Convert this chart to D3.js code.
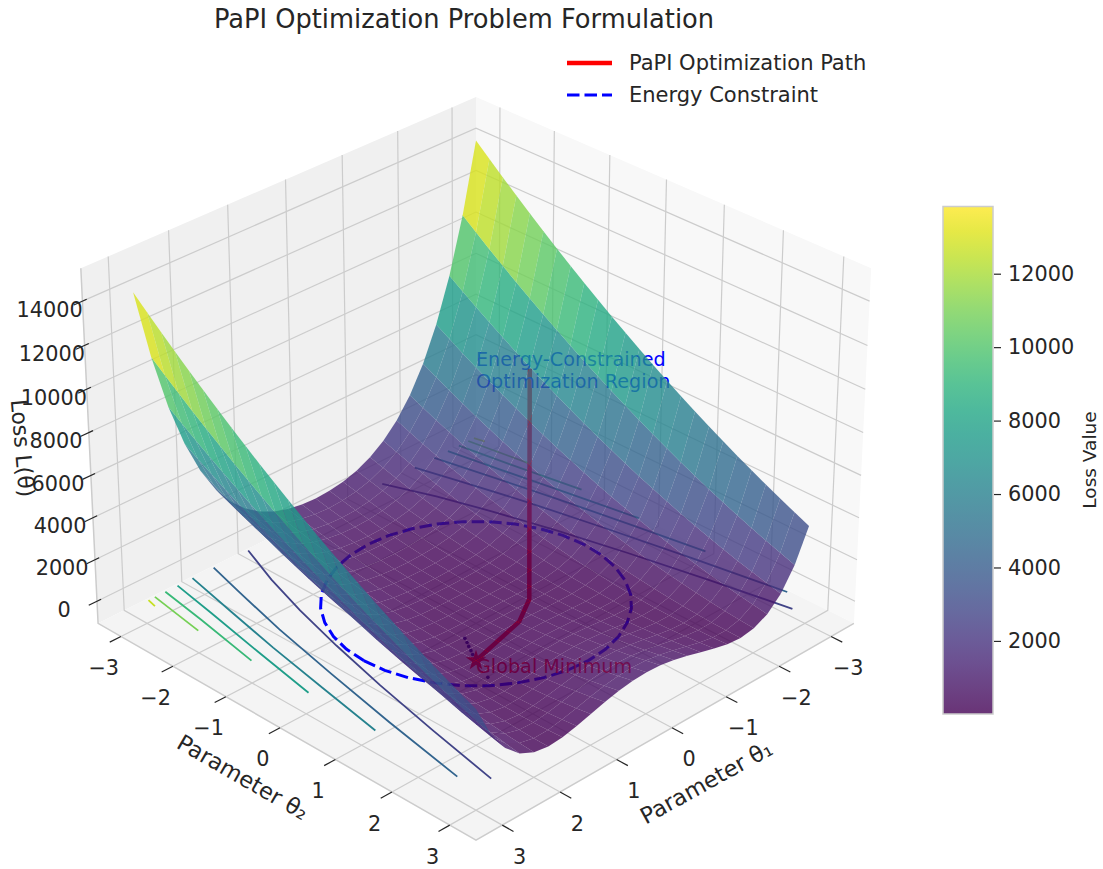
<!DOCTYPE html>
<html>
<head>
<meta charset="utf-8">
<script src="https://cdn.jsdelivr.net/npm/d3@7"></script>
<style>
  html, body { margin: 0; background: #fff; }
  text { font-family: "DejaVu Sans", sans-serif; fill: #262626; }
</style>
</head>
<body>
<div id="chart"></div>
<script>
// values
const thetaGrid = [-3,-2.75,-2.5,-2.25,-2,-1.75,-1.5,-1.25,-1,-0.75,-0.5,-0.25,0,0.25,0.5,0.75,1,1.25,1.5,1.75,2,2.25,2.5,2.75,3];
// one row per theta2, one column per theta1
const lossGrid = [
[14416,11171,8568,6511,4909,3683,2762,2087,1604,1272,1058,940,901,939,1056,1269,1600,2082,2756,3676,4901,6502,8558,11160,14404],
[13822,10649,8112,6115,4565,3387,2506,1865,1410,1100,902,793,757,792,900,1097,1406,1860,2500,3380,4557,6106,8102,10638,13810],
[13241,10139,7668,5730,4234,3102,2262,1655,1229,941,758,659,626,658,756,938,1225,1650,2256,3095,4226,5721,7658,10128,13229],
[12672,9643,7237,5358,3915,2830,2031,1459,1060,794,627,537,507,536,625,791,1056,1454,2025,2823,3907,5349,7227,9632,12660],
[12116,9158,6818,4999,3609,2571,1812,1274,904,660,508,427,401,426,506,657,900,1269,1806,2564,3601,4990,6808,9147,12104],
[11572,8686,6412,4652,3315,2324,1606,1102,760,538,402,331,307,330,400,535,756,1097,1600,2317,3307,4643,6402,8675,11560],
[11041,8227,6018,4318,3034,2090,1412,943,629,428,308,246,226,245,306,425,625,938,1406,2083,3026,4309,6008,8216,11029],
[10522,7780,5637,3996,2765,1868,1231,796,510,332,227,174,157,173,225,329,506,791,1225,1861,2757,3987,5627,7769,10510],
[10016,7346,5268,3686,2509,1658,1062,662,404,247,158,115,101,114,156,244,400,657,1056,1651,2501,3677,5258,7335,10004],
[9522,6924,4912,3390,2265,1462,906,540,310,175,102,68,57,67,100,172,306,535,900,1455,2257,3381,4902,6913,9510],
[9041,6514,4568,3105,2034,1277,762,430,229,116,58,34,26,33,56,113,225,425,756,1270,2026,3096,4558,6503,9029],
[8572,6118,4237,2833,1815,1105,631,334,160,69,27,12,7,11,25,66,156,329,625,1098,1807,2824,4227,6107,8560],
[8116,5733,3918,2574,1609,946,512,249,104,35,8,2,1,1,6,32,100,244,506,939,1601,2565,3908,5722,8104],
[7672,5361,3612,2327,1415,799,406,177,60,13,2,6,7,5,0,10,56,172,400,792,1407,2318,3602,5350,7660],
[7241,5002,3318,2093,1234,665,312,118,29,3,8,21,26,20,6,0,25,113,306,658,1226,2084,3308,4991,7229],
[6822,4655,3037,1871,1065,543,231,71,10,7,27,49,57,48,25,4,6,66,225,536,1057,1862,3027,4644,6810],
[6416,4321,2768,1661,909,433,162,37,4,22,58,90,101,89,56,19,0,32,156,426,901,1652,2758,4310,6404],
[6022,3999,2512,1465,765,337,106,15,10,50,102,143,157,142,100,47,6,10,100,330,757,1456,2502,3988,6010],
[5641,3689,2268,1280,634,252,62,5,29,91,158,209,226,208,156,88,25,0,56,245,626,1271,2258,3678,5629],
[5272,3393,2037,1108,515,180,31,9,60,144,227,287,307,286,225,141,56,4,25,173,507,1099,2027,3382,5260],
[4916,3108,1818,949,409,121,12,24,104,210,308,377,401,376,306,207,100,19,6,114,401,940,1808,3097,4904],
[4572,2836,1612,802,315,74,6,52,160,288,402,481,507,480,400,285,156,47,0,67,307,793,1602,2825,4560],
[4241,2577,1418,668,234,40,12,93,229,378,508,596,626,595,506,375,225,88,6,33,226,659,1408,2566,4229],
[3922,2330,1237,546,165,18,31,146,310,482,627,725,757,724,625,479,306,141,25,11,157,537,1227,2319,3910],
[3616,2096,1068,436,109,8,62,212,404,597,758,865,901,864,756,594,400,207,56,1,101,427,1058,2085,3604]
];

const thetaTicks = [-3,-2,-1,0,1,2,3];
const lossTicks = [0,2000,4000,6000,8000,10000,12000,14000];
const colorbarTicks = [2000,4000,6000,8000,10000,12000];

// floor contours: level, then [theta1, theta2] points
const contourLevels = [2000,4000,6000,8000,10000,12000,14000];
const contourRight = [
  [[1.22,-3],[1.5,-2.25],[1.75,-1.44],[2,-0.5],[2.25,0.56],[2.5,1.75],[2.74,3]],
  [[1.83,-3],[2,-2.33],[2.25,-1.29],[2.5,-0.07],[2.75,1.24],[3,2.68]],
  [[2.2,-3],[2.4,-2.03],[2.6,-1.03],[2.8,0.09],[3,1.25]],
  [[2.46,-3],[2.6,-2.19],[2.8,-1.1],[3,0.05]],
  [[2.67,-3],[2.8,-2.16],[3,-1]],
  [[2.85,-3],[3,-2]],
  [[2.96,-3],[3,-2.83]]
];
const contourLeft = [
  [[-1.22,-3],[-1.5,-2.25],[-1.75,-1.44],[-2,-0.5],[-2.25,0.56],[-2.5,1.75],[-2.74,3]],
  [[-1.83,-3],[-2,-2.33],[-2.25,-1.29],[-2.5,-0.07],[-2.75,1.24],[-3,2.68]],
  [[-2.2,-3],[-2.4,-2.03],[-2.6,-1.03],[-2.8,0.09],[-3,1.25]],
  [[-2.46,-3],[-2.6,-2.19],[-2.8,-1.1],[-3,0.05]],
  [[-2.67,-3],[-2.8,-2.16],[-3,-1]],
  [[-2.85,-3],[-3,-2]],
  [[-2.96,-3],[-3,-2.83]]
];

const energyTheta1 = [2,1.97,1.88,1.73,1.53,1.29,1,0.68,0.35,0,-0.35,-0.68,-1,-1.29,-1.53,-1.73,-1.88,-1.97,-2,-1.97,-1.88,-1.73,-1.53,-1.29,-1,-0.68,-0.35,0,0.35,0.68,1,1.29,1.53,1.73,1.88,1.97,2];
const energyTheta2 = [0,0.35,0.68,1,1.29,1.53,1.73,1.88,1.97,2,1.97,1.88,1.73,1.53,1.29,1,0.68,0.35,0,-0.35,-0.68,-1,-1.29,-1.53,-1.73,-1.88,-1.97,-2,-1.97,-1.88,-1.73,-1.53,-1.29,-1,-0.68,-0.35,0];

const pathTheta1 = [-0.49,-0.51,-0.52,-0.04,1];
const pathTheta2 = [0.46,0.45,0.45,0.74,1];
const pathLoss = [10900,5000,0,0,0];

const dotTheta1 = [0.73,0.78,0.83,0.88,0.93,1.17];
const dotTheta2 = [0.53,0.62,0.7,0.79,0.87,1.38];

const width = 1103, height = 869;

// same camera as the original figure: elev 30, azim 45, distance 10
const boxX = 0.5952, boxZ = 0.4464, camDist = 10;
const sx = 4590, cx = 476, cy = 449.8;
const lim = 3.447, zLo = -1075, zHi = 15470;

const xScale = d3.scaleLinear().domain([-lim, lim]).range([-boxX, boxX]);
const yScale = d3.scaleLinear().domain([-lim, lim]).range([-boxX, boxX]);
const zScale = d3.scaleLinear().domain([zLo, zHi]).range([-boxZ, boxZ]);
const colorScale = d3.scaleLinear().domain([10, 13830]).range([0, 1]).clamp(true);
const contourColor = d3.scaleLinear().domain([-1400, 15500]).range([0, 1]);

const c45 = Math.SQRT1_2, cEl = Math.cos(Math.PI / 6), sEl = 0.5;

function project(t1, t2, z) {
  const wx = xScale(t1), wy = yScale(t2), wz = zScale(z);
  const u = c45 * (wy - wx);
  const v = -sEl * c45 * (wx + wy) + cEl * wz;
  const w = cEl * c45 * (wx + wy) + sEl * wz;
  const d = camDist - w;
  return [cx + sx * u / d, cy - sx * v / d, d];
}

const svg = d3.select('#chart').append('svg')
  .attr('width', width)
  .attr('height', height)
  .style('display', 'block');

const line3 = d3.line();
const poly = pts => line3(pts.map(p => project(p[0], p[1], p[2]))) + 'Z';
const seg = pts => line3(pts.map(p => project(p[0], p[1], p[2])));

// panes
const panes = [
  {fill: '#f0f0f0', pts: [[lim,-lim,zLo],[-lim,-lim,zLo],[-lim,-lim,zHi],[lim,-lim,zHi]]},
  {fill: '#f8f8f8', pts: [[-lim,-lim,zLo],[-lim,lim,zLo],[-lim,lim,zHi],[-lim,-lim,zHi]]},
  {fill: '#f4f4f4', pts: [[-lim,-lim,zLo],[-lim,lim,zLo],[lim,lim,zLo],[lim,-lim,zLo]]}
];
svg.append('g').selectAll('path').data(panes).enter().append('path')
  .attr('d', d => poly(d.pts))
  .attr('fill', d => d.fill);

// grid
const gridColor = '#cccccc';
const grid = svg.append('g').attr('fill', 'none').attr('stroke', gridColor).attr('stroke-width', 1.2);
thetaTicks.forEach(t => {
  grid.append('path').attr('d', seg([[t,lim,zLo],[t,-lim,zLo],[t,-lim,zHi]]));
  grid.append('path').attr('d', seg([[lim,t,zLo],[-lim,t,zLo],[-lim,t,zHi]]));
});
lossTicks.forEach(z => {
  grid.append('path').attr('d', seg([[lim,-lim,z],[-lim,-lim,z],[-lim,lim,z]]));
});
grid.append('path').attr('d', seg([[lim,-lim,zHi],[lim,-lim,zLo],[lim,lim,zLo],[-lim,lim,zLo]])).attr('stroke-width', 1.5);

// ticks and tick labels
const ticks = svg.append('g').attr('stroke', '#262626').attr('stroke-width', 1.2).attr('fill', 'none');
const labels = svg.append('g').attr('font-size', 20.8).attr('text-anchor', 'middle');
const fmt = v => String(v).replace('-', '\u2212');
thetaTicks.forEach(t => {
  const a = project(lim, t, zLo), b = project(lim + 0.19, t, zLo);
  ticks.append('line').attr('x1', a[0]).attr('y1', a[1]).attr('x2', b[0]).attr('y2', b[1]);
  labels.append('text').attr('x', b[0] - 6).attr('y', b[1] + 32.5).text(fmt(t));
  const c = project(t, lim, zLo), e = project(t, lim + 0.19, zLo);
  ticks.append('line').attr('x1', c[0]).attr('y1', c[1]).attr('x2', e[0]).attr('y2', e[1]);
  labels.append('text').attr('x', e[0] + 6).attr('y', e[1] + 32.5).text(fmt(t));
});
lossTicks.forEach(z => {
  const a = project(lim - 0.07, -lim, z), b = project(lim + 0.14, -lim, z);
  ticks.append('line').attr('x1', a[0]).attr('y1', a[1]).attr('x2', b[0]).attr('y2', b[1]);
  labels.append('text').attr('x', a[0] - 37).attr('y', a[1] + 17.5).text(z);
});

// floor contours
const contours = svg.append('g').attr('fill', 'none').attr('stroke-width', 1.8);
contourLevels.forEach((lev, i) => {
  [contourRight[i], contourLeft[i]].forEach(pts => {
    contours.append('path')
      .attr('d', line3(pts.map(p => project(p[0], p[1], 0))))
      .attr('stroke', d3.interpolateViridis(contourColor(lev)));
  });
});

// energy constraint
svg.append('path')
  .attr('d', line3(energyTheta1.map((t, i) => project(t, energyTheta2[i], 0))))
  .attr('fill', 'none')
  .attr('stroke', '#0000ff')
  .attr('stroke-width', 3)
  .attr('stroke-dasharray', '12.5,5');

// optimization path
svg.append('path')
  .attr('d', line3(pathTheta1.map((t, i) => project(t, pathTheta2[i], pathLoss[i]))))
  .attr('fill', 'none')
  .attr('stroke', '#ff0000')
  .attr('stroke-width', 4.5);
svg.append('g').selectAll('circle').data(dotTheta1).enter().append('circle')
  .attr('cx', (d, i) => project(d, dotTheta2[i], 0)[0])
  .attr('cy', (d, i) => project(d, dotTheta2[i], 0)[1])
  .attr('r', 1.8)
  .attr('fill', '#1a0a80');
const minPos = project(1, 1, 0);
svg.append('path')
  .attr('d', d3.symbol().type(d3.symbolStar).size(130)())
  .attr('transform', 'translate(' + minPos[0] + ',' + minPos[1] + ')')
  .attr('fill', '#ff0000');

// annotations sit under the translucent surface
svg.append('text').attr('x', minPos[0]).attr('y', minPos[1] + 12)
  .attr('font-size', 19.2).style('fill', '#ff0000').text('Global Minimum');
const regionPos = project(0, 0, 10000);
const region = svg.append('text').attr('font-size', 19.2).style('fill', '#0000ff');
region.append('tspan').attr('x', regionPos[0]).attr('y', regionPos[1] - 23).text('Energy-Constrained');
region.append('tspan').attr('x', regionPos[0]).attr('y', regionPos[1] - 1).text('Optimization Region');

// surface cells, far ones first
const cells = [];
for (let r = 0; r < thetaGrid.length - 1; r++) {
  for (let c = 0; c < thetaGrid.length - 1; c++) {
    const corners = [[c, r], [c + 1, r], [c + 1, r + 1], [c, r + 1]]
      .map(([i, j]) => [thetaGrid[i], thetaGrid[j], lossGrid[j][i]]);
    const zs = corners.map(p => p[2]);
    cells.push({
      corners,
      value: d3.mean(zs) * 0.75 + d3.max(zs) * 0.25,
      depth: d3.mean(corners, p => project(p[0], p[1], p[2])[2])
    });
  }
}
cells.sort((a, b) => b.depth - a.depth);
svg.append('g').selectAll('path').data(cells).enter().append('path')
  .attr('d', d => poly(d.corners))
  .attr('fill', d => d3.interpolateViridis(colorScale(d.value)))
  .attr('fill-opacity', 0.8);

// title, axis names
svg.append('text').attr('x', 464).attr('y', 28).attr('text-anchor', 'middle')
  .attr('font-size', 25.7).text('PaPI Optimization Problem Formulation');
svg.append('text').attr('text-anchor', 'middle').attr('font-size', 22.5)
  .attr('transform', 'translate(710,789) rotate(-29)').text('Parameter \u03b8\u2081');
svg.append('text').attr('text-anchor', 'middle').attr('font-size', 22.5)
  .attr('transform', 'translate(239,784) rotate(30)').text('Parameter \u03b8\u2082');
svg.append('text').attr('text-anchor', 'middle').attr('font-size', 22)
  .attr('transform', 'translate(15,449) rotate(85)').text('Loss L(\u03b8)');

// legend
const legendY = [63, 95];
svg.append('line').attr('x1', 567).attr('x2', 612).attr('y1', legendY[0]).attr('y2', legendY[0])
  .attr('stroke', '#ff0000').attr('stroke-width', 4.5);
svg.append('line').attr('x1', 567).attr('x2', 612).attr('y1', legendY[1]).attr('y2', legendY[1])
  .attr('stroke', '#0000ff').attr('stroke-width', 3).attr('stroke-dasharray', '12.5,5');
svg.append('text').attr('x', 629).attr('y', legendY[0] + 7).attr('font-size', 21).text('PaPI Optimization Path');
svg.append('text').attr('x', 629).attr('y', legendY[1] + 7).attr('font-size', 21).text('Energy Constraint');

// colorbar
const barY = d3.scaleLinear().domain([10, 13830]).range([714, 206.5]);
const defs = svg.append('defs');
const grad = defs.append('linearGradient').attr('id', 'barGrad')
  .attr('x1', 0).attr('x2', 0).attr('y1', 1).attr('y2', 0);
d3.range(0, 1.0001, 0.05).forEach(t => {
  grad.append('stop').attr('offset', t)
    .attr('stop-color', d3.interpolateViridis(t))
    .attr('stop-opacity', 0.8);
});
svg.append('rect').attr('x', 943).attr('y', barY(13830)).attr('width', 50)
  .attr('height', barY(10) - barY(13830))
  .attr('fill', 'url(#barGrad)')
  .attr('stroke', '#cccccc').attr('stroke-width', 1.5);
const barAxis = d3.axisRight(barY).tickValues(colorbarTicks).tickSize(7).tickPadding(7).tickFormat(d => d);
const barG = svg.append('g').attr('transform', 'translate(994,0)').call(barAxis);
barG.select('.domain').remove();
barG.selectAll('.tick line').attr('stroke', '#262626').attr('stroke-width', 1.2);
barG.selectAll('.tick text').attr('font-size', 20.8).style('font-family', '"DejaVu Sans", sans-serif').style('fill', '#262626');
svg.append('text').attr('text-anchor', 'middle').attr('font-size', 18.5)
  .attr('transform', 'translate(1096,460) rotate(-90)').text('Loss Value');
</script>
</body>
</html>
